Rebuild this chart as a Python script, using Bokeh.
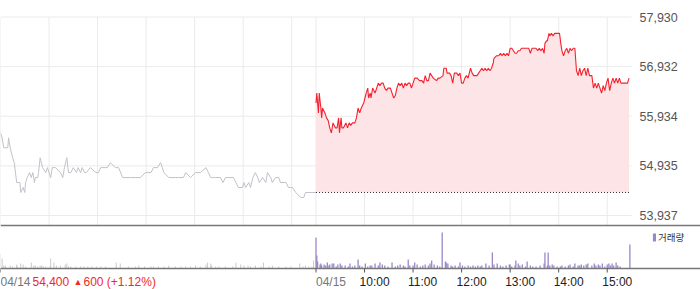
from bokeh.plotting import figure
from bokeh.models import Range1d, Legend, LegendItem
from bokeh.core.properties import value
from bokeh.embed import file_html
from bokeh.resources import INLINE

# ---------------- data ----------------
SESSION = 390  # minutes per trading session (09:00-15:30)

# 04/14 session: minutes since 09:00, price
prev_t = [0, 2, 4, 9, 10, 12, 15, 17, 20, 24,
          25, 28, 30, 31, 33, 36, 38, 40, 42, 43,
          46, 47, 49, 52, 56, 58, 62, 64, 68, 74,
          77, 79, 82, 84, 87, 90, 94, 96, 99, 101,
          104, 106, 111, 118, 121, 124, 132, 136, 142, 146,
          151, 155, 161, 167, 173, 179, 186, 189, 194, 198,
          200, 202, 208, 213, 216, 220, 226, 229, 235, 241,
          247, 254, 257, 260, 262, 266, 272, 275, 278, 285,
          288, 291, 294, 299, 301, 303, 307, 309, 312, 315,
          318, 320, 324, 328, 330, 334, 336, 340, 344, 346,
          353, 356, 359, 361, 365, 371, 375, 377, 390]
prev_p = [55600, 55500, 55300, 55300, 55500, 55300, 55100, 55000, 54600, 54600,
          54400, 54500, 54400, 54600, 54700, 54800, 54700, 54800, 54600, 54700,
          54700, 54800, 55100, 54900, 54800, 54900, 54700, 54900, 54900, 54800,
          54700, 54900, 55100, 54800, 54800, 54900, 54800, 54900, 54800, 54900,
          54800, 54800, 54900, 54800, 54800, 54900, 54900, 55000, 54900, 54900,
          54700, 54700, 54700, 54700, 54700, 54800, 54800, 54900, 54900, 55000,
          54900, 54800, 54700, 54700, 54700, 54700, 54700, 54800, 54700, 54800,
          54800, 54900, 54800, 54700, 54700, 54700, 54700, 54600, 54700, 54700,
          54700, 54600, 54500, 54500, 54600, 54500, 54600, 54500, 54700, 54800,
          54700, 54600, 54700, 54600, 54800, 54700, 54600, 54700, 54700, 54600,
          54600, 54500, 54500, 54500, 54400, 54300, 54300, 54400, 54400]

# 04/15 session: minutes since 09:00, price
today_t = [0, 1, 3, 4, 6, 7, 8, 11, 13, 15,
           17, 19, 21, 24, 26, 28, 29, 31, 32, 34,
           37, 39, 41, 43, 45, 48, 50, 52, 54, 56,
           59, 62, 64, 65, 67, 68, 70, 73, 75, 77,
           79, 81, 83, 85, 87, 89, 92, 94, 96, 98,
           100, 102, 104, 106, 108, 110, 112, 114, 116, 118,
           120, 122, 125, 128, 131, 133, 135, 137, 139, 141,
           143, 145, 149, 151, 153, 157, 158, 161, 162, 165,
           167, 169, 171, 174, 176, 178, 180, 182, 184, 186,
           188, 191, 193, 195, 197, 199, 201, 203, 205, 207,
           209, 211, 213, 215, 217, 219, 220, 223, 226, 228,
           230, 232, 234, 236, 238, 240, 242, 244, 246, 248,
           250, 252, 254, 261, 263, 265, 267, 272, 274, 276,
           278, 280, 282, 283, 285, 286, 288, 289, 291, 293,
           295, 299, 301, 303, 304, 306, 308, 310, 312, 314,
           316, 318, 320, 322, 324, 326, 328, 330, 332, 334,
           336, 338, 341, 343, 345, 347, 349, 351, 353, 355,
           357, 359, 361, 363, 365, 367, 369, 371, 373, 375,
           377, 379, 383, 385, 387]
today_p = [56200, 56400, 56000, 56400, 56100, 55900, 56100, 56000, 55900, 55850,
           55700, 55600, 55800, 55700, 55700, 55900, 55600, 55900, 55700, 55700,
           55800, 55700, 55800, 55750, 55800, 55800, 55900, 56100, 56000, 56100,
           56200, 56400, 56500, 56300, 56400, 56300, 56500, 56400, 56500, 56600,
           56550, 56600, 56600, 56500, 56450, 56500, 56500, 56400, 56300, 56350,
           56500, 56600, 56550, 56600, 56500, 56600, 56550, 56600, 56600, 56500,
           56600, 56700, 56700, 56650, 56650, 56600, 56750, 56650, 56650, 56800,
           56750, 56700, 56650, 56700, 56700, 56750, 56900, 56900, 56800, 56800,
           56750, 56600, 56800, 56800, 56750, 56800, 56600, 56600, 56700, 56750,
           56700, 56900, 56800, 56750, 56750, 56750, 56800, 56850, 56900, 56850,
           56900, 56850, 56900, 56850, 56900, 57000, 57100, 57150, 57150, 57200,
           57150, 57200, 57150, 57200, 57150, 57300, 57300, 57250, 57200, 57200,
           57250, 57250, 57300, 57300, 57300, 57200, 57300, 57300, 57250, 57300,
           57250, 57300, 57200, 57400, 57450, 57450, 57600, 57550, 57600, 57550,
           57600, 57600, 57600, 57350, 57250, 57150, 57250, 57300, 57200, 57300,
           57250, 57300, 57300, 56850, 56750, 56900, 56750, 56850, 56900, 56750,
           56900, 56750, 56750, 56500, 56600, 56500, 56600, 56500, 56400, 56550,
           56450, 56600, 56700, 56450, 56600, 56700, 56600, 56700, 56600, 56700,
           56600, 56600, 56600, 56600, 56700]

base_price = 54400

# volume (thousand shares)
prev_vt = [0, 2, 4, 6, 12, 15, 20, 21, 25, 28,
           31, 38, 41, 43, 46, 49, 51, 53, 56, 61,
           62, 66, 69, 74, 80, 82, 84, 87, 93, 99,
           103, 108, 113, 119, 124, 130, 143, 148, 158, 167,
           171, 178, 186, 189, 195, 202, 208, 216, 223, 229,
           235, 241, 247, 254, 256, 260, 261, 266, 270, 278,
           287, 291, 297, 301, 306, 309, 315, 322, 325, 332,
           336, 344, 353, 359, 370, 374, 377, 381, 385, 387]
prev_v = [150, 100, 30, 30, 30, 20, 40, 20, 50, 40,
          20, 60, 30, 30, 20, 30, 30, 20, 20, 20,
          100, 60, 30, 30, 40, 50, 20, 20, 20, 20,
          20, 20, 20, 20, 20, 20, 60, 50, 20, 20,
          30, 20, 20, 20, 20, 20, 30, 20, 20, 20,
          20, 30, 20, 40, 60, 50, 30, 20, 20, 20,
          20, 60, 40, 30, 30, 20, 30, 20, 60, 20,
          30, 20, 20, 20, 50, 20, 30, 20, 20, 80]

today_vt = [0, 1, 2, 5, 6, 7, 10, 12, 14, 16,
            17, 20, 22, 25, 27, 30, 32, 36, 40, 42,
            45, 48, 52, 54, 57, 61, 64, 67, 69, 73,
            77, 79, 82, 85, 89, 94, 98, 101, 104, 108,
            110, 114, 116, 120, 122, 125, 129, 132, 135, 139,
            141, 143, 146, 150, 153, 156, 160, 161, 163, 167,
            169, 172, 176, 178, 181, 184, 188, 191, 194, 197,
            200, 203, 205, 210, 214, 218, 220, 224, 228, 231,
            235, 239, 240, 242, 246, 247, 250, 252, 255, 259,
            261, 265, 268, 272, 277, 282, 283, 286, 287, 289,
            292, 294, 298, 302, 304, 308, 312, 314, 318, 320,
            324, 326, 328, 331, 334, 336, 341, 344, 346, 349,
            351, 354, 357, 360, 362, 364, 366, 368, 371, 373,
            376, 388]
today_v = [310, 130, 70, 40, 50, 30, 40, 30, 60, 30,
           40, 50, 50, 20, 40, 50, 30, 30, 20, 50,
           20, 30, 90, 30, 20, 50, 20, 30, 30, 50,
           30, 60, 40, 30, 20, 60, 20, 30, 40, 30,
           20, 90, 30, 30, 60, 40, 20, 30, 40, 30,
           50, 80, 40, 30, 20, 360, 70, 60, 50, 30,
           20, 30, 20, 60, 30, 20, 30, 20, 30, 20,
           30, 20, 30, 50, 30, 160, 40, 50, 30, 20,
           30, 40, 40, 20, 30, 80, 50, 30, 40, 20,
           70, 30, 20, 20, 30, 50, 160, 30, 160, 30,
           40, 30, 20, 20, 30, 20, 30, 40, 20, 50,
           30, 30, 40, 30, 40, 50, 30, 50, 30, 40,
           30, 50, 20, 40, 50, 30, 50, 30, 60, 30,
           20, 240]

y_ticks = [53937, 54935, 55934, 56932, 57930]
hour_marks = [60, 120, 180, 240, 300, 360]
date_labels = ["04/14", "04/15"]
time_labels = ["10:00", "11:00", "12:00", "13:00", "14:00", "15:00"]
last_price_text = "54,400"
change_arrow = "\u25b2"
change_text = "600 (+1.12%)"
volume_label = "거래량"

# ---------------- layout constants (pixels) ----------------
W, H = 700, 289
PLOT_W = 631            # width of the price area
TOP_TICK_PX = 16.5      # page y of the highest price tick
BOT_TICK_PX = 215       # page y of the lowest price tick
SEP_PX = 225            # page y of the separator between panels
BASE_PX = 268           # page y of the volume baseline
VOL_PER_PX = 10         # volume units per pixel
LABEL_PX = 281          # page y of the bottom labels

X_END = 2 * SESSION
X_VIEW = X_END * W / PLOT_W
upp = (y_ticks[-1] - y_ticks[0]) / (BOT_TICK_PX - TOP_TICK_PX)
y_lo = y_ticks[0] - (H - BOT_TICK_PX) * upp
y_hi = y_ticks[-1] + TOP_TICK_PX * upp
sep_val = y_ticks[0] - (SEP_PX - BOT_TICK_PX) * upp
vol_lo = -(H - BASE_PX) * VOL_PER_PX
vol_hi = BASE_PX * VOL_PER_PX
label_vol = -(LABEL_PX - BASE_PX) * VOL_PER_PX

# ---------------- derived ----------------
n1 = min(len(prev_t), len(prev_p))
prev_x, prev_y = prev_t[:n1], prev_p[:n1]
n2 = min(len(today_t), len(today_p))
today_x = [SESSION + t for t in today_t[:n2]]
today_y = today_p[:n2]
pv_n = min(len(prev_vt), len(prev_v))
tv_n = min(len(today_vt), len(today_v))
today_vx = [SESSION + t for t in today_vt[:tv_n]]

grid_x = [0] + hour_marks + [SESSION] + [SESSION + h for h in hour_marks]
tick_x = [0, SESSION] + [SESSION + h for h in hour_marks]
FONT = "Liberation Sans"
GRID = "#ebebeb"

p = figure(width=W, height=H, x_range=Range1d(0, X_VIEW),
           y_range=Range1d(y_lo, y_hi),
           extra_y_ranges={"vol": Range1d(vol_lo, vol_hi)},
           x_axis_location=None, y_axis_location=None,
           output_backend="svg", toolbar_location=None,
           min_border_left=0, min_border_right=0, min_border_top=0,
           min_border_bottom=0)
p.outline_line_color = None
p.grid.visible = False

# price grid
p.segment(x0=grid_x, x1=grid_x, y0=[sep_val] * len(grid_x),
          y1=[y_ticks[-1]] * len(grid_x), line_color=GRID, line_width=1)
p.segment(x0=[0] * len(y_ticks), x1=[X_END] * len(y_ticks), y0=y_ticks,
          y1=y_ticks, line_color=GRID, line_width=1)

# price series
p.varea(x=today_x, y1=base_price, y2=today_y, fill_color="#fde4e7")
p.line(prev_x, prev_y, line_color="#c0c2c9", line_width=1)
p.line([today_x[0], today_x[-1]], [base_price, base_price],
       line_color="#333333", line_dash="1 2", line_width=1)
p.line(today_x, today_y, line_color="#f5222d", line_width=1.1)

# y tick labels (right)
p.text(x=[X_END] * len(y_ticks), y=y_ticks,
       text=[f"{t:,}" for t in y_ticks], x_offset=8,
       text_align="left", text_baseline="middle",
       text_font=value(FONT), text_font_size=value("12.5px"),
       text_color="#555555")

# separator
p.segment(x0=[0], x1=[X_VIEW], y0=[sep_val], y1=[sep_val],
          line_color="#777777", line_width=1.5)

# volume
p.vbar(x=prev_vt[:pv_n], top=prev_v[:pv_n], width=1.2, bottom=0,
       fill_color="#c6c8ce", line_color=None, y_range_name="vol")
r_today = p.vbar(x=today_vx, top=today_v[:tv_n], width=1.6, bottom=0,
                 fill_color="#9a86c8", line_color=None, y_range_name="vol")

# baseline and ticks
p.segment(x0=[0], x1=[X_VIEW], y0=[0], y1=[0], line_color="#777777",
          line_width=1.5, y_range_name="vol")
p.segment(x0=tick_x, x1=tick_x, y0=[0] * len(tick_x),
          y1=[-4 * VOL_PER_PX] * len(tick_x), line_color="#555555",
          line_width=1, y_range_name="vol")

# bottom labels
common = dict(y_range_name="vol", text_baseline="middle", text_align="left",
              text_font=value(FONT))
p.text(x=[0, SESSION], y=[label_vol] * 2, text=date_labels,
       text_font_size=value("12px"), text_color="#777777", **common)
p.text(x=[SESSION + h for h in hour_marks], y=[label_vol] * len(hour_marks),
       text=time_labels, x_offset=-5, text_font_size=value("12px"),
       text_color="#222222", **common)
p.text(x=[0], y=[label_vol], text=[last_price_text], x_offset=32,
       text_font_size=value("12px"), text_color="#ee2a2a", **common)
p.text(x=[0], y=[label_vol], text=[change_arrow], x_offset=73,
       text_font_size=value("9px"), text_color="#ee2a2a", **common)
p.text(x=[0], y=[label_vol], text=[change_text], x_offset=83,
       text_font_size=value("12px"), text_color="#ee2a2a", **common)

legend = Legend(items=[LegendItem(label=volume_label, renderers=[r_today])],
                location=(652, 45), orientation="vertical",
                glyph_width=4, glyph_height=10, label_height=10,
                label_standoff=2, padding=0, margin=0, spacing=0,
                border_line_color=None, background_fill_alpha=0,
                label_text_font="Noto Sans CJK KR",
                label_text_font_size="9.5px", label_text_color="#333333")
p.add_layout(legend)

open("out.html", "w").write(file_html(p, INLINE))
